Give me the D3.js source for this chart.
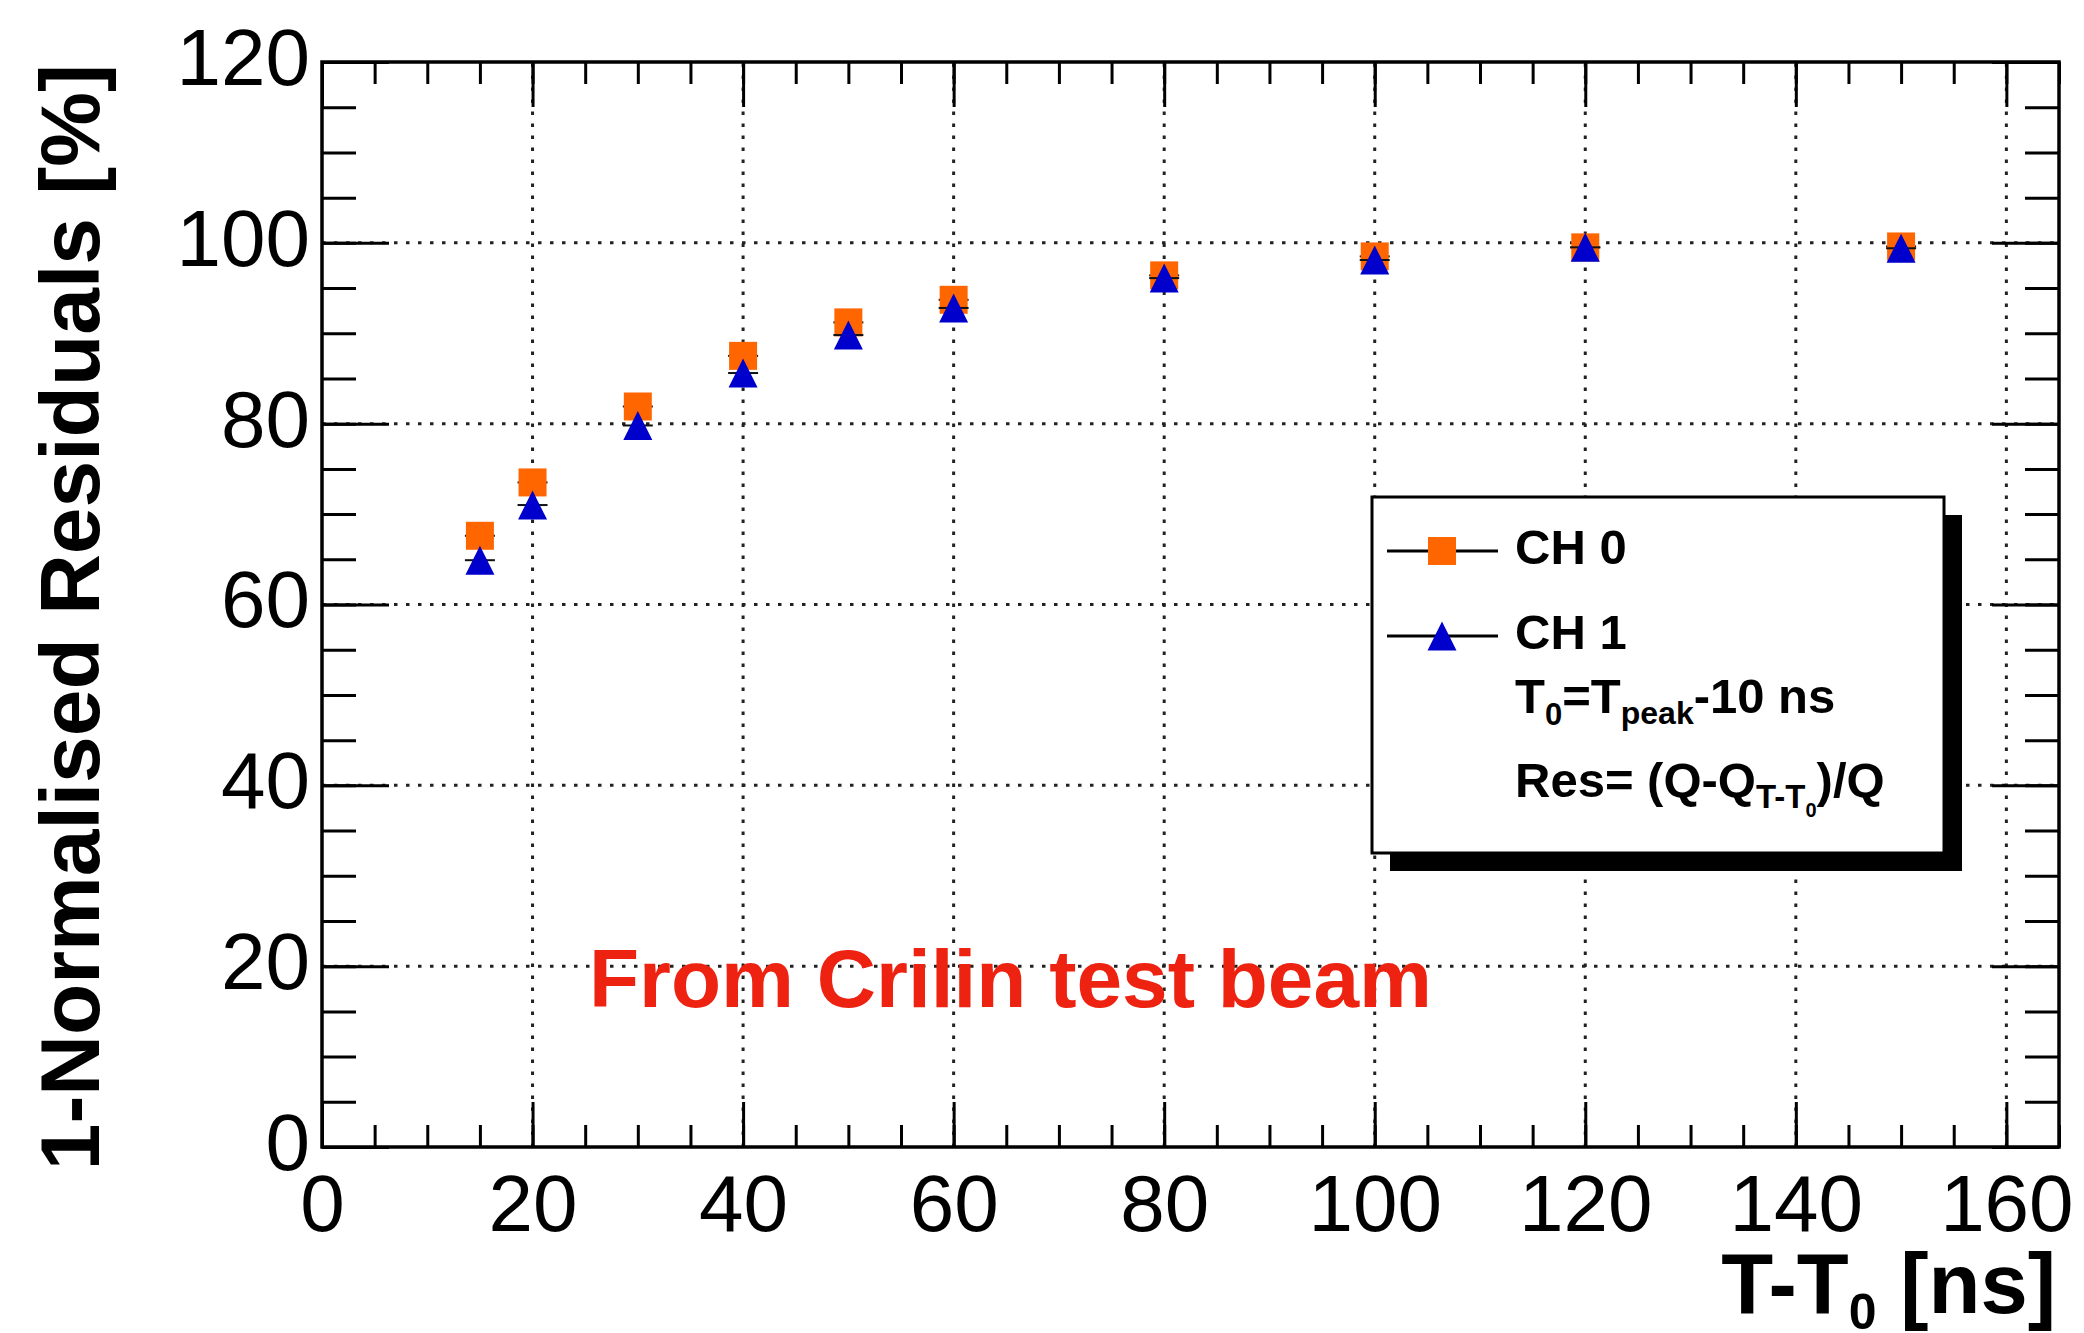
<!DOCTYPE html>
<html>
<head>
<meta charset="utf-8">
<script src="https://cdn.jsdelivr.net/npm/d3@7"></script>
<style>
    body { margin: 0; background: #fff; }
    svg { display: block; }
    text { font-family: "Liberation Sans", Arial, Helvetica, sans-serif; }
</style>
</head>
<body>
<svg id="chart"></svg>
<script>
// Dimensions
const width = 2084;
const height = 1333;

const margin = {
    top: 62,
    right: 25,
    bottom: 186,
    left: 322
};

// Data
const tValues = [15, 20, 30, 40, 50, 60, 80, 100, 120, 150];
const ch0 = [67.6, 73.5, 81.9, 87.5, 91.2, 93.7, 96.4, 98.5, 99.5, 99.6];
const ch1 = [64.9, 71.0, 79.8, 85.6, 89.8, 92.8, 96.1, 98.1, 99.5, 99.4];

const xTicks = [0, 20, 40, 60, 80, 100, 120, 140, 160];
const yTicks = [0, 20, 40, 60, 80, 100, 120];
const xMinor = d3.range(0, 166, 5);
const yMinor = d3.range(0, 121, 5);

const orange = "#ff6600";
const blue = "#0000cc";

const svg = d3.select("#chart")
    .attr("width", width)
    .attr("height", height);

const x = d3.scaleLinear()
    .domain([0, 165])
    .range([margin.left, width - margin.right]);

const y = d3.scaleLinear()
    .domain([0, 120])
    .range([height - margin.bottom, margin.top]);

const x0 = margin.left, x1 = width - margin.right;
const y0 = height - margin.bottom, y1 = margin.top;

// Grid (dotted, at major ticks)
svg.append("g")
    .selectAll("line")
    .data(xTicks.filter(d => d > 0))
    .join("line")
    .attr("x1", d => x(d)).attr("x2", d => x(d))
    .attr("y1", y0).attr("y2", y1)
    .attr("stroke", "#222")
    .attr("stroke-width", 3)
    .attr("stroke-dasharray", "3.5 8.5");

svg.append("g")
    .selectAll("line")
    .data(yTicks.filter(d => d > 0 && d < 120))
    .join("line")
    .attr("x1", x0).attr("x2", x1)
    .attr("y1", d => y(d)).attr("y2", d => y(d))
    .attr("stroke", "#222")
    .attr("stroke-width", 3)
    .attr("stroke-dasharray", "3.5 8.5");

// Axes: major + minor ticks on all four sides, pointing inward
function tickAxis(axis, ticks, size, withLabels) {
    return axis
        .tickValues(ticks)
        .tickSizeInner(-size)
        .tickSizeOuter(0)
        .tickFormat(withLabels ? d3.format("d") : "");
}

function styleAxis(g) {
    g.select(".domain").remove();
    g.selectAll(".tick line").attr("stroke", "#000").attr("stroke-width", 3);
    g.attr("font-family", null).attr("font-size", 80);
    g.selectAll(".tick text").attr("fill", "#000");
}

// bottom
svg.append("g")
    .attr("transform", `translate(0,${y0})`)
    .call(tickAxis(d3.axisBottom(x), xMinor, 22, false))
    .call(styleAxis);
svg.append("g")
    .attr("transform", `translate(0,${y0})`)
    .call(tickAxis(d3.axisBottom(x), xTicks, 45, true).tickPadding(27))
    .call(styleAxis);

// top
svg.append("g")
    .attr("transform", `translate(0,${y1})`)
    .call(tickAxis(d3.axisTop(x), xMinor, 22, false))
    .call(styleAxis);
svg.append("g")
    .attr("transform", `translate(0,${y1})`)
    .call(tickAxis(d3.axisTop(x), xTicks, 45, false))
    .call(styleAxis);

// left
svg.append("g")
    .attr("transform", `translate(${x0},0)`)
    .call(tickAxis(d3.axisLeft(y), yMinor, 34, false))
    .call(styleAxis);
svg.append("g")
    .attr("transform", `translate(${x0},0)`)
    .call(tickAxis(d3.axisLeft(y), yTicks, 67, true).tickPadding(12))
    .call(styleAxis)
    .selectAll(".tick text").attr("dy", "0.28em");

// right
svg.append("g")
    .attr("transform", `translate(${x1},0)`)
    .call(tickAxis(d3.axisRight(y), yMinor, 34, false))
    .call(styleAxis);
svg.append("g")
    .attr("transform", `translate(${x1},0)`)
    .call(tickAxis(d3.axisRight(y), yTicks, 67, false))
    .call(styleAxis);

// Frame
svg.append("rect")
    .attr("x", x0).attr("y", y1)
    .attr("width", x1 - x0).attr("height", y0 - y1)
    .attr("fill", "none")
    .attr("stroke", "#000")
    .attr("stroke-width", 3.5);

// Axis titles
svg.append("text")
    .attr("transform", "rotate(-90)")
    .attr("x", -64)
    .attr("y", 99)
    .attr("text-anchor", "end")
    .attr("font-size", 84)
    .attr("font-weight", "bold")
    .text("1-Normalised Residuals [%]");

const xt = svg.append("text")
    .attr("x", 2056)
    .attr("y", 1313)
    .attr("text-anchor", "end")
    .attr("font-size", 85)
    .attr("font-weight", "bold");
xt.append("tspan").text("T-T");
xt.append("tspan").attr("font-size", 50).attr("dy", 16).text("0");
xt.append("tspan").attr("dy", -16).text(" [ns]");

// Markers
const triangleUp = {
    draw(ctx, size) {
        const s = Math.sqrt(size);
        ctx.moveTo(0, -s / 2);
        ctx.lineTo(s / 2, s / 2);
        ctx.lineTo(-s / 2, s / 2);
        ctx.closePath();
    }
};

const series = [
    { name: "CH 0", values: ch0, color: orange, symbol: d3.symbolSquare, size: 28 * 28 },
    { name: "CH 1", values: ch1, color: blue, symbol: triangleUp, size: 29 * 29 }
];

series.forEach(s => {
    const pts = tValues.map((t, i) => ({ t: t, v: s.values[i] }));

    svg.append("g")
        .selectAll("line")
        .data(pts)
        .join("line")
        .attr("x1", d => x(d.t) - 15)
        .attr("x2", d => x(d.t) + 15)
        .attr("y1", d => y(d.v))
        .attr("y2", d => y(d.v))
        .attr("stroke", "#111")
        .attr("stroke-width", 2);

    svg.append("g")
        .selectAll("path")
        .data(pts)
        .join("path")
        .attr("transform", d => `translate(${x(d.t)},${y(d.v)})`)
        .attr("d", d3.symbol(s.symbol, s.size))
        .attr("fill", s.color);
});

// Legend
const lg = { x: 1372, y: 497, w: 572, h: 356 };

svg.append("rect")
    .attr("x", lg.x + 18).attr("y", lg.y + 18)
    .attr("width", lg.w).attr("height", lg.h)
    .attr("fill", "#000");

svg.append("rect")
    .attr("x", lg.x).attr("y", lg.y)
    .attr("width", lg.w).attr("height", lg.h)
    .attr("fill", "#fff")
    .attr("stroke", "#000")
    .attr("stroke-width", 3);

const legendRows = [551, 636];

series.forEach((s, i) => {
    const cy = legendRows[i];
    svg.append("line")
        .attr("x1", lg.x + 15).attr("x2", lg.x + 126)
        .attr("y1", cy).attr("y2", cy)
        .attr("stroke", "#000")
        .attr("stroke-width", 3);
    svg.append("path")
        .attr("transform", `translate(${lg.x + 70},${cy})`)
        .attr("d", d3.symbol(s.symbol, s.size))
        .attr("fill", s.color);
    svg.append("text")
        .attr("x", lg.x + 143)
        .attr("y", cy + 13)
        .attr("font-size", 49)
        .attr("font-weight", "bold")
        .text(s.name);
});

const t0 = svg.append("text")
    .attr("x", lg.x + 143)
    .attr("y", 713)
    .attr("font-size", 49)
    .attr("font-weight", "bold");
t0.append("tspan").text("T");
t0.append("tspan").attr("font-size", 31).attr("dy", 12).text("0");
t0.append("tspan").attr("dy", -12).text("=T");
t0.append("tspan").attr("font-size", 32).attr("dy", 11).text("peak");
t0.append("tspan").attr("dy", -11).text("-10 ns");

const res = svg.append("text")
    .attr("x", lg.x + 143)
    .attr("y", 797)
    .attr("font-size", 49)
    .attr("font-weight", "bold");
res.append("tspan").text("Res= (Q-Q");
res.append("tspan").attr("font-size", 33).attr("dy", 11).text("T-T");
res.append("tspan").attr("font-size", 20).attr("dy", 9).text("0");
res.append("tspan").attr("dy", -20).text(")/Q");

// Annotation
svg.append("text")
    .attr("x", 589)
    .attr("y", 1007)
    .attr("font-size", 82)
    .attr("font-weight", "bold")
    .attr("fill", "#ee2211")
    .text("From Crilin test beam");
</script>
</body>
</html>
